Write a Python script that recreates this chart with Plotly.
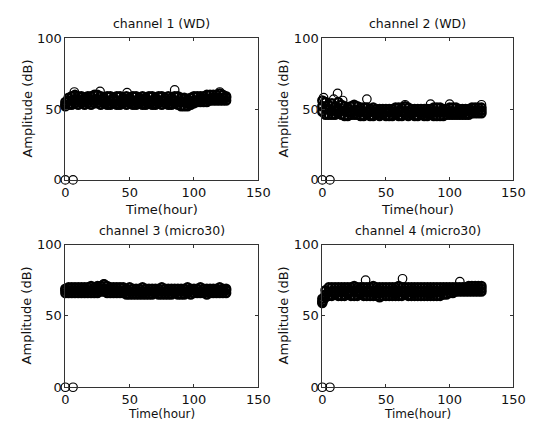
import plotly.graph_objects as go

hours = [0, 2.5, 5, 7.5, 10, 12.5, 15, 17.5, 20, 22.5,
         25, 27.5, 30, 32.5, 35, 37.5, 40, 42.5, 45, 47.5,
         50, 52.5, 55, 57.5, 60, 62.5, 65, 67.5, 70, 72.5,
         75, 77.5, 80, 82.5, 85, 87.5, 90, 92.5, 95, 97.5,
         100, 102.5, 105, 107.5, 110, 112.5, 115, 117.5, 120, 122.5,
         125]

ch1_hi = [55, 58, 59, 60, 59, 59, 58, 59, 59, 60,
          60, 59, 58, 59, 59, 58, 59, 59, 58, 59,
          58, 59, 59, 58, 59, 58, 59, 59, 58, 59,
          59, 58, 59, 58, 59, 59, 58, 58, 57, 58,
          59, 59, 59, 59, 60, 60, 60, 60, 61, 60,
          59]
ch1_mid = [53, 56, 56, 57, 56, 56, 56, 57, 56, 56,
           57, 56, 56, 55, 56, 56, 56, 55, 56, 56,
           55, 56, 55, 56, 56, 55, 56, 55, 56, 56,
           56, 56, 55, 56, 56, 55, 55, 55, 54, 55,
           56, 56, 57, 57, 57, 57, 58, 58, 58, 58,
           58]
ch1_lo = [52, 53, 53, 54, 53, 54, 53, 54, 53, 54,
          54, 53, 54, 53, 53, 54, 53, 53, 54, 53,
          54, 53, 53, 54, 53, 53, 54, 53, 53, 54,
          53, 54, 53, 53, 54, 53, 52, 52, 52, 53,
          54, 55, 55, 55, 55, 56, 56, 56, 56, 56,
          56]
ch1_out_t = [0, 6, 7, 27, 48, 85, 120]
ch1_out_a = [0, 0, 62, 62.5, 61.5, 63.5, 62]

ch2_hi = [56, 55, 53, 54, 52, 55, 53, 52, 51, 52,
          53, 52, 51, 51, 51, 50, 51, 50, 50, 50,
          50, 50, 50, 51, 51, 51, 52, 51, 50, 50,
          50, 50, 50, 50, 50, 51, 51, 51, 50, 50,
          51, 51, 51, 50, 50, 50, 50, 51, 51, 51,
          51]
ch2_mid = [52, 50, 50, 49, 49, 50, 49, 49, 48, 48,
           49, 49, 49, 48, 48, 48, 48, 48, 48, 47,
           48, 48, 48, 48, 48, 48, 48, 48, 48, 48,
           48, 48, 48, 47, 48, 48, 48, 48, 48, 48,
           48, 48, 48, 48, 48, 48, 49, 49, 49, 49,
           49]
ch2_lo = [48, 46, 46, 46, 46, 47, 46, 45, 45, 46,
          46, 46, 45, 45, 46, 45, 45, 46, 45, 46,
          45, 45, 45, 46, 45, 45, 46, 45, 46, 45,
          45, 46, 45, 45, 46, 45, 45, 45, 45, 46,
          46, 46, 46, 46, 46, 46, 46, 47, 47, 47,
          47]
ch2_out_t = [0, 6, 1, 2, 9, 12, 16, 35, 65, 85, 100, 125]
ch2_out_a = [0, 0, 58, 55, 57, 61, 56, 57, 53, 53.5, 53.5, 53]

ch3_hi = [69, 70, 70, 70, 70, 70, 70, 70, 71, 70,
          71, 71, 72, 71, 70, 70, 70, 70, 70, 69,
          70, 69, 69, 69, 70, 69, 69, 69, 69, 69,
          70, 69, 69, 69, 69, 69, 69, 69, 70, 69,
          69, 69, 70, 69, 69, 69, 69, 69, 70, 69,
          69]
ch3_mid = [68, 68, 68, 68, 68, 68, 68, 68, 68, 68,
           69, 69, 69, 69, 68, 68, 68, 68, 67, 67,
           67, 67, 67, 67, 67, 67, 67, 67, 67, 67,
           67, 67, 67, 67, 67, 67, 68, 67, 67, 68,
           68, 67, 67, 67, 67, 68, 68, 68, 68, 68,
           68]
ch3_lo = [66, 66, 66, 66, 66, 66, 66, 66, 66, 66,
          66, 67, 67, 66, 66, 66, 66, 66, 66, 65,
          65, 65, 65, 65, 65, 65, 65, 65, 66, 65,
          65, 65, 65, 65, 66, 65, 65, 65, 66, 65,
          66, 66, 66, 66, 65, 66, 66, 66, 66, 66,
          66]
ch3_out_t = [0, 6, 30]
ch3_out_a = [0, 0, 72.5]

ch4_hi = [62, 68, 70, 70, 70, 70, 70, 70, 70, 70,
          71, 70, 70, 70, 70, 70, 71, 70, 70, 70,
          70, 70, 70, 70, 71, 70, 70, 70, 70, 70,
          70, 70, 70, 70, 70, 70, 70, 70, 70, 70,
          70, 70, 70, 70, 70, 70, 71, 71, 71, 71,
          71]
ch4_mid = [60, 65, 67, 67, 67, 67, 67, 67, 67, 67,
           68, 67, 67, 67, 67, 67, 67, 67, 67, 67,
           67, 67, 67, 67, 67, 67, 67, 67, 67, 67,
           67, 67, 67, 67, 67, 67, 67, 67, 68, 68,
           68, 68, 68, 69, 69, 69, 69, 69, 69, 69,
           69]
ch4_lo = [59, 63, 64, 64, 65, 64, 64, 64, 65, 64,
          64, 64, 65, 64, 64, 64, 64, 64, 63, 64,
          64, 64, 64, 64, 64, 64, 65, 64, 64, 64,
          64, 64, 64, 64, 64, 64, 64, 64, 65, 65,
          66, 66, 67, 67, 67, 67, 67, 67, 67, 67,
          67]
ch4_out_t = [0, 6, 1, 34, 63, 108]
ch4_out_a = [0, 0, 61, 75, 76, 74]

titles = ["channel 1 (WD)", "channel 2 (WD)", "channel 3 (micro30)", "channel 4 (micro30)"]
x_ticks = [0, 50, 100, 150]
y_ticks = [0, 50, 100]

channels = [
    (ch1_hi, ch1_mid, ch1_lo, ch1_out_t, ch1_out_a),
    (ch2_hi, ch2_mid, ch2_lo, ch2_out_t, ch2_out_a),
    (ch3_hi, ch3_mid, ch3_lo, ch3_out_t, ch3_out_a),
    (ch4_hi, ch4_mid, ch4_lo, ch4_out_t, ch4_out_a),
]

# the page body has an 8px margin, so the figure is drawn 8px in from the window corner
OFF = 8
W, H = 536 - OFF, 429 - OFF
# plot boxes in window pixels (left, right, top, bottom)
boxes_win = [(63, 262, 32, 179), (328, 525, 32, 179), (63, 262, 246, 394), (328, 525, 246, 394)]
boxes = [(l - OFF, r - OFF, t - OFF, b - OFF) for l, r, t, b in boxes_win]

FONT = "DejaVu Sans"
fig = go.Figure()
band_marker = dict(symbol="circle-open", size=8, color="black", line=dict(width=2.5, color="black"))
out_marker = dict(symbol="circle-open", size=8.5, color="black", line=dict(width=1.2, color="black"))

layout = dict(
    width=W, height=H, margin=dict(l=0, r=0, t=0, b=0),
    paper_bgcolor="white", plot_bgcolor="white", showlegend=False,
    font=dict(family=FONT, size=12, color="#111"),
)
annotations = []
for i, (box, ch, title) in enumerate(zip(boxes, channels, titles)):
    n = i + 1
    xa = "x" if n == 1 else f"x{n}"
    ya = "y" if n == 1 else f"y{n}"
    l, r, t, b = box
    fig.add_trace(go.Scatter(x=ch[3], y=ch[4], mode="markers", marker=out_marker,
                             xaxis=xa, yaxis=ya, cliponaxis=False))
    for series in ch[:3]:
        fig.add_trace(go.Scatter(x=hours, y=series, mode="markers", marker=band_marker,
                                 xaxis=xa, yaxis=ya, cliponaxis=False))
    axcommon = dict(showline=True, linecolor="#333", linewidth=1, mirror="ticks",
                    ticks="inside", ticklen=3, tickcolor="#333", showgrid=False,
                    zeroline=False, tickfont=dict(family=FONT, size=13, color="#111"))
    layout["xaxis" if n == 1 else f"xaxis{n}"] = dict(
        domain=[l / W, r / W], range=[0, 150], tickvals=x_ticks, anchor=ya, **axcommon)
    layout["yaxis" if n == 1 else f"yaxis{n}"] = dict(
        domain=[(H - b) / H, (H - t) / H], range=[0, 100], tickvals=y_ticks, anchor=xa, **axcommon)
    cx = (l + r) / 2
    top_row = i < 2
    annotations.append(dict(text=title, x=cx / W, y=(H - (t - 15)) / H, xref="paper", yref="paper",
                            showarrow=False, xanchor="center", yanchor="middle",
                            font=dict(family=FONT, size=12.5, color="#111")))
    annotations.append(dict(text="Time(hour)", x=cx / W,
                            y=(H - (b + (31 if top_row else 28))) / H, xref="paper", yref="paper",
                            showarrow=False, xanchor="center", yanchor="middle",
                            font=dict(family=FONT, size=13 if top_row else 12, color="#111")))
    annotations.append(dict(text="Amplitude (dB)", x=(l - 40) / W, y=(H - (t + b) / 2) / H,
                            xref="paper", yref="paper", textangle=-90,
                            showarrow=False, xanchor="center", yanchor="middle",
                            font=dict(family=FONT, size=13, color="#111")))
layout["annotations"] = annotations
fig.update_layout(**layout)
fig.write_html("out.html")
